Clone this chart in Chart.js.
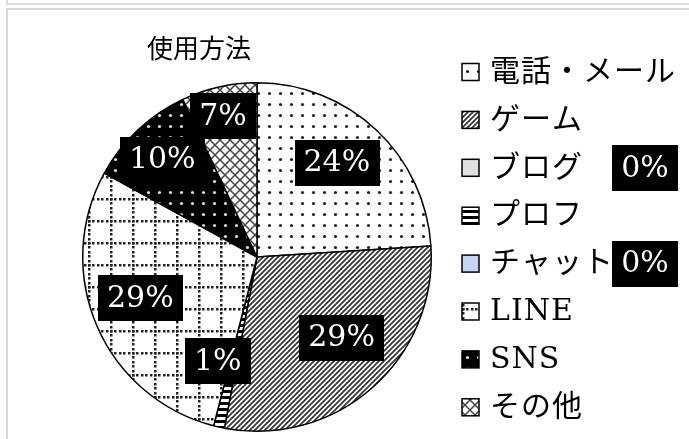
<!DOCTYPE html>
<html>
<head>
<meta charset="utf-8">
<script src="https://cdn.jsdelivr.net/npm/chart.js@4/dist/chart.umd.min.js"></script>
<style>
  body { margin: 0; background: #fff; }
  #wrap { position: relative; width: 689px; height: 439px; overflow: hidden; }
  #topFrame { position: absolute; left: 6px; top: -10px; width: 720px; height: 11px; border: 2px solid #dcdcdc; }
  #frame { position: absolute; left: 6px; top: 8px; width: 720px; height: 470px; border: 2px solid #d9d9d9; }
  #grafPouziti { position: absolute; left: 0; top: 0; }
</style>
</head>
<body>
<div id="wrap">
  <div id="topFrame"></div>
  <div id="frame"></div>
  <canvas id="grafPouziti" width="689" height="439"></canvas>
</div>
<script>
const nazev = "使用方法";
const kategorie = ["電話・メール", "ゲーム", "ブログ", "プロフ", "チャット", "LINE", "SNS", "その他"];
const hodnoty = [24, 29, 0, 1, 0, 29, 10, 7];
const popisky = ["24%", "29%", "0%", "1%", "0%", "29%", "10%", "7%"];

// vzorky výplně jako v Excelu
function vzorek(druh) {
    const c = document.createElement("canvas");
    const g = c.getContext("2d");
    if (druh === "tecky" || druh === "tecky-cerne") {
        c.width = 11; c.height = 11;
        g.fillStyle = druh === "tecky" ? "#fff" : "#000";
        g.fillRect(0, 0, 11, 11);
        g.fillStyle = druh === "tecky" ? "#222" : "#ddd";
        g.beginPath(); g.arc(5.5, 5.5, 1.6, 0, Math.PI * 2); g.fill();
    } else if (druh === "sikmo") {
        c.width = 5; c.height = 5;
        g.fillStyle = "#fff"; g.fillRect(0, 0, 5, 5);
        g.strokeStyle = "#333"; g.lineWidth = 1.7;
        g.beginPath();
        g.moveTo(-1, 1); g.lineTo(1, -1);
        g.moveTo(0, 5); g.lineTo(5, 0);
        g.moveTo(4, 6); g.lineTo(6, 4);
        g.stroke();
    } else if (druh === "pruhy") {
        c.width = 6; c.height = 6;
        g.fillStyle = "#fff"; g.fillRect(0, 0, 6, 6);
        g.fillStyle = "#000"; g.fillRect(0, 0, 6, 3);
    } else if (druh === "mrizka") {
        c.width = 22; c.height = 22;
        g.fillStyle = "#fff"; g.fillRect(0, 0, 22, 22);
        g.fillStyle = "#222";
        for (let i = 0; i < 5; i++) {
            const p = Math.round(i * 4.4);
            g.fillRect(p, 0, 2.5, 2.5);
            g.fillRect(0, p, 2.5, 2.5);
        }
    } else if (druh === "krizem") {
        c.width = 10; c.height = 10;
        g.fillStyle = "#fff"; g.fillRect(0, 0, 10, 10);
        g.strokeStyle = "#444"; g.lineWidth = 1.5;
        g.beginPath();
        g.moveTo(0, 0); g.lineTo(10, 10);
        g.moveTo(10, 0); g.lineTo(0, 10);
        g.stroke();
    }
    return g.createPattern(c, "repeat");
}

const ctx = document.getElementById("grafPouziti").getContext("2d");

const barvy = [vzorek("tecky"), vzorek("sikmo"), "#e0e0e0", vzorek("pruhy"), "#c6d5f3", vzorek("mrizka"), vzorek("tecky-cerne"), vzorek("krizem")];

// posun popisku od středu (podíl poloměru) a natočení ve stupních
const posunPopisku = [0.71, 0.67, 0, 0.64, 0, 0.71, 0.78, 0.83];
const natoceniPopisku = [-3, -5, 0, 8, 0, 4, -1, -1];

const pismoPopisku = "30px 'DejaVu Serif', 'Noto Sans CJK JP', serif";

const popiskyPlugin = {
    id: "popisky",
    afterDraw(chart) {
        const c = chart.ctx;
        const meta = chart.getDatasetMeta(0);
        const oblouk = meta.data[0];
        const cx = oblouk.x, cy = oblouk.y, r = oblouk.outerRadius;

        // nadpis
        c.save();
        c.fillStyle = "#000";
        c.font = "26px 'Noto Sans CJK JP', sans-serif";
        c.textAlign = "center";
        c.textBaseline = "middle";
        c.fillText(nazev, 199, 48);

        // legenda
        const lx = 462, ly = 72, krok = 47.9;
        c.font = pismoPopisku;
        c.textAlign = "left";
        kategorie.forEach((k, i) => {
            const y = ly + i * krok;
            c.fillStyle = barvy[i];
            c.fillRect(lx, y - 8.5, 17, 17);
            c.lineWidth = 1.5;
            c.strokeStyle = "#000";
            c.strokeRect(lx, y - 8.5, 17, 17);
            c.fillStyle = "#000";
            c.letterSpacing = "1px";
            c.fillText(k, lx + 28, y + 1);
            c.letterSpacing = "0px";
        });

        // procenta v černých rámečcích
        c.textAlign = "center";
        popisky.forEach((t, i) => {
            let x, y;
            if (hodnoty[i] === 0) {
                x = 645; y = ly + i * krok;
            } else {
                const a = meta.data[i];
                const uhel = (a.startAngle + a.endAngle) / 2 + natoceniPopisku[i] * Math.PI / 180;
                x = cx + Math.cos(uhel) * r * posunPopisku[i];
                y = cy + Math.sin(uhel) * r * posunPopisku[i];
            }
            const w = c.measureText(t).width + 18;
            const h = 46;
            c.fillStyle = "#000";
            c.fillRect(Math.round(x - w / 2), Math.round(y - h / 2), Math.round(w), h);
            c.fillStyle = "#fff";
            c.fillText(t, x, y + 1);
        });
        c.restore();
    }
};

new Chart(ctx, {
    type: "pie",
    data: {
        labels: kategorie,
        datasets: [{
            data: hodnoty,
            backgroundColor: barvy,
            borderColor: "#000",
            borderWidth: 1.5
        }]
    },
    options: {
        responsive: false,
        animation: false,
        layout: { padding: { left: 82, top: 82, right: 257, bottom: 7 } },
        plugins: {
            legend: { display: false },
            title: { display: false },
            tooltip: { enabled: false }
        }
    },
    plugins: [popiskyPlugin]
});
</script>
</body>
</html>
